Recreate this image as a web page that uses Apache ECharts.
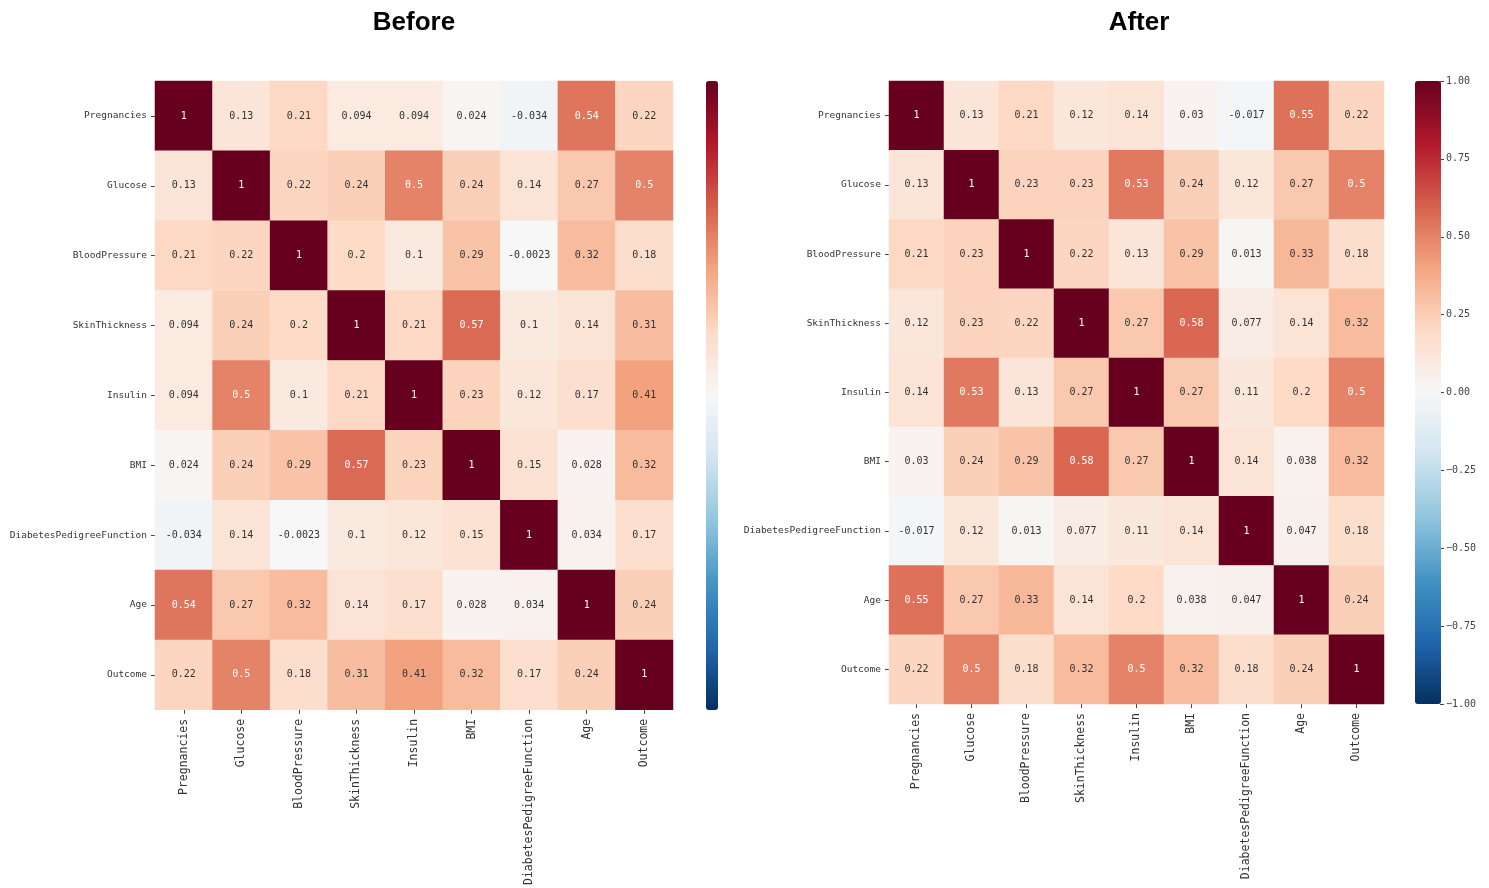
<!DOCTYPE html>
<html>
<head>
<meta charset="utf-8">
<script src="https://cdn.jsdelivr.net/npm/echarts@6/dist/echarts.min.js"></script>
<style>
  html, body { margin: 0; padding: 0; background: #fff; }
  #chart { width: 1489px; height: 888px; }
</style>
</head>
<body>
<div id="chart"></div>
<script>
// columns / rows of both correlation matrices
const features = [
  "Pregnancies", "Glucose", "BloodPressure", "SkinThickness", "Insulin",
  "BMI", "DiabetesPedigreeFunction", "Age", "Outcome"
];

// correlation before cleaning
const beforeCorr = [
  [1, 0.13, 0.21, 0.094, 0.094, 0.024, -0.034, 0.54, 0.22],
  [0.13, 1, 0.22, 0.24, 0.5, 0.24, 0.14, 0.27, 0.5],
  [0.21, 0.22, 1, 0.2, 0.1, 0.29, -0.0023, 0.32, 0.18],
  [0.094, 0.24, 0.2, 1, 0.21, 0.57, 0.1, 0.14, 0.31],
  [0.094, 0.5, 0.1, 0.21, 1, 0.23, 0.12, 0.17, 0.41],
  [0.024, 0.24, 0.29, 0.57, 0.23, 1, 0.15, 0.028, 0.32],
  [-0.034, 0.14, -0.0023, 0.1, 0.12, 0.15, 1, 0.034, 0.17],
  [0.54, 0.27, 0.32, 0.14, 0.17, 0.028, 0.034, 1, 0.24],
  [0.22, 0.5, 0.18, 0.31, 0.41, 0.32, 0.17, 0.24, 1]
];

// correlation after cleaning
const afterCorr = [
  [1, 0.13, 0.21, 0.12, 0.14, 0.03, -0.017, 0.55, 0.22],
  [0.13, 1, 0.23, 0.23, 0.53, 0.24, 0.12, 0.27, 0.5],
  [0.21, 0.23, 1, 0.22, 0.13, 0.29, 0.013, 0.33, 0.18],
  [0.12, 0.23, 0.22, 1, 0.27, 0.58, 0.077, 0.14, 0.32],
  [0.14, 0.53, 0.13, 0.27, 1, 0.27, 0.11, 0.2, 0.5],
  [0.03, 0.24, 0.29, 0.58, 0.27, 1, 0.14, 0.038, 0.32],
  [-0.017, 0.12, 0.013, 0.077, 0.11, 0.14, 1, 0.047, 0.18],
  [0.55, 0.27, 0.33, 0.14, 0.2, 0.038, 0.047, 1, 0.24],
  [0.22, 0.5, 0.18, 0.32, 0.5, 0.32, 0.18, 0.24, 1]
];

// colorbar ticks (right panel only)
const cbarTicks = [-1, -0.75, -0.5, -0.25, 0, 0.25, 0.5, 0.75, 1];

// RdBu_r
const rdbu = ["#053061", "#2166ac", "#4393c3", "#92c5de", "#d1e5f0", "#f7f7f7",
              "#fddbc7", "#f4a582", "#d6604d", "#b2182b", "#67001f"];

const mono = "DejaVu Sans Mono";

const toCells = (m) => {
  const out = [];
  m.forEach((row, r) => row.forEach((v, c) => out.push([c, r, v])));
  return out;
};

const fmt = (v) => String(Number(v.toPrecision(2)));

// seaborn-style annotations: light text on the dark cells
const heatSeries = (idx, m) => ({
  type: "heatmap",
  xAxisIndex: idx,
  yAxisIndex: idx,
  data: toCells(m).map((d) => ({
    value: d,
    label: { color: d[2] >= 0.45 ? "#fff" : "#333" }
  })),
  label: {
    show: true,
    fontFamily: mono,
    fontSize: 10,
    formatter: (p) => fmt(p.value[2])
  },
  emphasis: { disabled: true },
  itemStyle: { borderWidth: 0 }
});

const xCat = (idx) => ({
  type: "category",
  gridIndex: idx,
  data: features,
  axisLine: { show: false },
  axisTick: { show: true, alignWithLabel: true, length: 4, lineStyle: { color: "#444" } },
  axisLabel: { rotate: 90, interval: 0, fontFamily: mono, fontSize: 11.5, color: "#333", margin: 9 },
  splitLine: { show: false }
});

const yCat = (idx) => ({
  type: "category",
  gridIndex: idx,
  data: features,
  inverse: true,
  axisLine: { show: false },
  axisTick: { show: true, alignWithLabel: true, length: 4, lineStyle: { color: "#444" } },
  axisLabel: { interval: 0, fontFamily: mono, fontSize: 9.5, color: "#333", margin: 8 },
  splitLine: { show: false }
});

const chart = echarts.init(document.getElementById("chart"));

const titleStyle = { fontFamily: "Liberation Sans", fontWeight: "bold", fontSize: 26, color: "#000" };

const option = {
  backgroundColor: "#fff",
  animation: false,
  title: [
    { text: "Before", left: 409, top: 5, textAlign: "center", textStyle: titleStyle },
    { text: "After", left: 1134, top: 5, textAlign: "center", textStyle: titleStyle }
  ],
  grid: [
    { left: 155, top: 81, width: 518, height: 629 },
    { left: 889, top: 81, width: 495, height: 623 },
    { left: 1440, top: 81, width: 1, height: 623 }
  ],
  xAxis: [
    xCat(0),
    xCat(1),
    { type: "value", gridIndex: 2, show: false, min: 0, max: 1 }
  ],
  yAxis: [
    yCat(0),
    yCat(1),
    {
      type: "value", gridIndex: 2, position: "right",
      min: -1, max: 1, interval: 0.25,
      axisLine: { show: false },
      splitLine: { show: false },
      axisTick: { show: true, length: 4, lineStyle: { color: "#444" } },
      axisLabel: {
        fontFamily: mono, fontSize: 10, color: "#444", margin: 5,
        formatter: (v) => {
          const t = cbarTicks.find((x) => Math.abs(x - v) < 1e-9);
          if (t === undefined) return "";
          return (t < 0 ? "\u2212" : "") + Math.abs(t).toFixed(2);
        }
      }
    }
  ],
  visualMap: [
    {
      type: "continuous", seriesIndex: 0, min: -1, max: 1,
      calculable: false, realtime: false, hoverLink: false,
      left: 706, top: 81, itemWidth: 12, itemHeight: 629, padding: 0,
      text: null, showLabel: false,
      inRange: { color: rdbu }
    },
    {
      type: "continuous", seriesIndex: 1, min: -1, max: 1,
      calculable: false, realtime: false, hoverLink: false,
      left: 1415, top: 81, itemWidth: 26, itemHeight: 623, padding: 0,
      text: null, showLabel: false,
      inRange: { color: rdbu }
    }
  ],
  series: [
    heatSeries(0, beforeCorr),
    heatSeries(1, afterCorr),
    { type: "line", xAxisIndex: 2, yAxisIndex: 2, data: [], silent: true }
  ]
};

chart.setOption(option);
</script>
</body>
</html>
